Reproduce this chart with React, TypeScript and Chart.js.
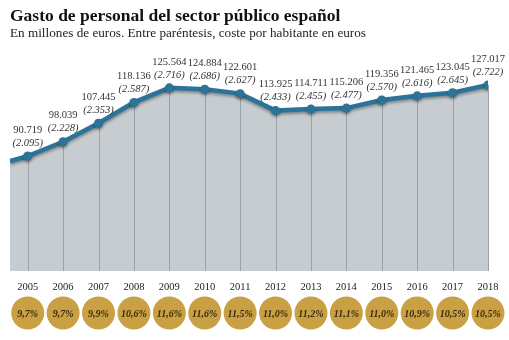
import React, { useEffect, useRef } from "react";
import { Chart, registerables } from "chart.js";

Chart.register(...registerables);

const years = [2005, 2006, 2007, 2008, 2009, 2010, 2011, 2012, 2013, 2014, 2015, 2016, 2017, 2018];
const spending = [90719, 98039, 107445, 118136, 125564, 124884, 122601, 113925, 114711, 115206, 119356, 121465, 123045, 127017];
const perCapita = [2095, 2228, 2353, 2587, 2716, 2686, 2627, 2433, 2455, 2477, 2570, 2616, 2645, 2722];
const pctLabels = ["9,7%", "9,7%", "9,9%", "10,6%", "11,6%", "11,6%", "11,5%", "11,0%", "11,2%", "11,1%", "11,0%", "10,9%", "10,5%", "10,5%"];
// lead-in segment at the left edge of the plot
const leadInX = 2004.5;
const leadInValue = 88200;

const fmt = (n: number) => String(n).replace(/\B(?=(\d{3})+(?!\d))/g, ".");

const LINE = "#2b7399";
const FILL = "#c6ccd0";
const GOLD = "#c9a043";
const SERIF = "'Liberation Serif', 'DejaVu Serif', serif";

export default function App() {
  const ref = useRef<HTMLCanvasElement>(null);
  useEffect(() => {
    const canvas = ref.current!;
    const data = [{ x: leadInX, y: leadInValue }, ...years.map((yr, i) => ({ x: yr, y: spending[i] }))];
    const overlay = {
      id: "overlay",
      beforeDatasetsDraw(chart: any) {
        const ctx = chart.ctx;
        const meta = chart.getDatasetMeta(0);
        const bottom = chart.chartArea.bottom;
        ctx.save();
        ctx.strokeStyle = "#9ba1a5";
        ctx.lineWidth = 1;
        meta.data.forEach((pt: any, i: number) => {
          if (i === 0) return;
          ctx.beginPath();
          ctx.moveTo(Math.round(pt.x) + 0.5, pt.y);
          ctx.lineTo(Math.round(pt.x) + 0.5, bottom);
          ctx.stroke();
        });
        ctx.restore();
      },
      beforeDatasetDraw(chart: any) {
        const ctx = chart.ctx;
        ctx.save();
        ctx.shadowColor = "rgba(0,0,0,0.35)";
        ctx.shadowBlur = 3;
        ctx.shadowOffsetY = 2;
      },
      afterDatasetDraw(chart: any) {
        chart.ctx.restore();
      },
      afterDraw(chart: any) {
        const ctx = chart.ctx;
        const meta = chart.getDatasetMeta(0);
        const xs = chart.scales.x;
        ctx.save();
        ctx.textAlign = "center";
        ctx.textBaseline = "middle";
        ctx.fillStyle = "#333";
        meta.data.forEach((pt: any, i: number) => {
          if (i === 0) return;
          const k = i - 1;
          ctx.font = `10.5px ${SERIF}`;
          ctx.fillText(fmt(spending[k]), pt.x, pt.y - 26);
          ctx.font = `italic 10.5px ${SERIF}`;
          ctx.fillText(`(${fmt(perCapita[k])})`, pt.x, pt.y - 13);
        });
        years.forEach((yr, i) => {
          const x = xs.getPixelForValue(yr);
          ctx.fillStyle = "#222";
          ctx.font = `10.5px ${SERIF}`;
          ctx.fillText(String(yr), x, 287);
          ctx.beginPath();
          ctx.arc(x, 313, 16.5, 0, Math.PI * 2);
          ctx.fillStyle = GOLD;
          ctx.fill();
          ctx.fillStyle = "#3a2a10";
          ctx.font = `italic bold 10px ${SERIF}`;
          ctx.fillText(pctLabels[i], x, 314);
        });
        ctx.restore();
      },
    };
    const chart = new Chart(canvas, {
      type: "line",
      data: {
        datasets: [
          {
            data,
            borderColor: LINE,
            borderWidth: 4.5,
            backgroundColor: FILL,
            fill: "start",
            tension: 0,
            pointRadius: data.map((_, i) => (i === 0 ? 0 : 4.5)),
            pointBackgroundColor: LINE,
            pointBorderColor: LINE,
            pointBorderWidth: 0,
          },
        ],
      },
      options: {
        animation: false,
        responsive: false,
        devicePixelRatio: 1,
        layout: { padding: { left: 10, right: 21, top: 40, bottom: 69 } },
        scales: {
          x: { type: "linear", min: leadInX, max: 2018, display: false },
          y: { type: "linear", min: 32000, max: 150000, display: false },
        },
        plugins: {
          legend: { display: false },
          tooltip: { enabled: false },
          filler: { drawTime: "beforeDatasetsDraw" } as any,
        },
      },
      plugins: [overlay],
    });
    return () => chart.destroy();
  }, []);

  return (
    <div style={{ position: "fixed", left: 0, top: 0, width: 509, height: 340, background: "#fff" }}>
      <canvas ref={ref} width={509} height={340} style={{ position: "absolute", left: 0, top: 0 }} />
      <div
        style={{
          position: "absolute",
          left: 10,
          top: 6,
          fontFamily: SERIF,
          fontWeight: "bold",
          fontSize: 17.5,
          color: "#111",
          whiteSpace: "nowrap",
          lineHeight: "18px",
        }}
      >
        Gasto de personal del sector público español
      </div>
      <div
        style={{
          position: "absolute",
          left: 10,
          top: 25,
          fontFamily: SERIF,
          fontSize: 13.2,
          color: "#222",
          whiteSpace: "nowrap",
          lineHeight: "15px",
        }}
      >
        En millones de euros. Entre paréntesis, coste por habitante en euros
      </div>
    </div>
  );
}
